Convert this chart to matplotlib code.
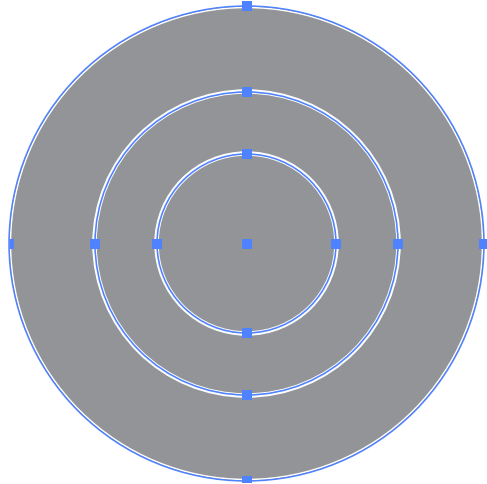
import numpy as np
import matplotlib.pyplot as plt
from matplotlib.patches import Circle, Rectangle

# geometry in pixels
center_x = 246.5
center_y = 244.5
outer_radius = 237.5
ring_radii = [151.5, 89.5]

gray = "#929497"
blue = "#4f82ff"

fig = plt.figure(figsize=(4.87, 4.85), dpi=100)
ax = fig.add_axes([0, 0, 1, 1])
ax.set_xlim(0, 487)
ax.set_ylim(485, 0)
ax.set_aspect("equal")
ax.axis("off")

px = 0.72  # points per pixel at dpi 100

# filled disk with its outline
ax.add_patch(Circle((center_x, center_y), outer_radius, facecolor=gray, edgecolor="none"))
ax.add_patch(Circle((center_x, center_y), outer_radius - 1.5, facecolor="none",
                    edgecolor="white", lw=1.5 * px))
ax.add_patch(Circle((center_x, center_y), outer_radius, facecolor="none",
                    edgecolor=blue, lw=1.5 * px))

# inner rings: white gap with blue path through it
for r in ring_radii:
    ax.add_patch(Circle((center_x, center_y), r + 0.5, facecolor="none",
                        edgecolor="white", lw=4.5 * px))
    ax.add_patch(Circle((center_x, center_y), r, facecolor="none",
                        edgecolor=blue, lw=1.6 * px))

# selection handles (the outer ones are cut off by the screenshot edge)
hx = [center_x]
hy = [center_y]
for r in [outer_radius] + ring_radii:
    hx += [center_x, center_x, center_x - r, center_x + r]
    hy += [center_y - r, center_y + r, center_y, center_y]
handles = ax.scatter(hx, hy, marker="s", s=(10 * px) ** 2, color=blue, linewidths=0, zorder=5)
clip = Rectangle((10, 0), 477, 483, transform=ax.transData, facecolor="none", edgecolor="none")
ax.add_patch(clip)
handles.set_clip_path(clip)

fig.savefig("out.png", dpi=100)
